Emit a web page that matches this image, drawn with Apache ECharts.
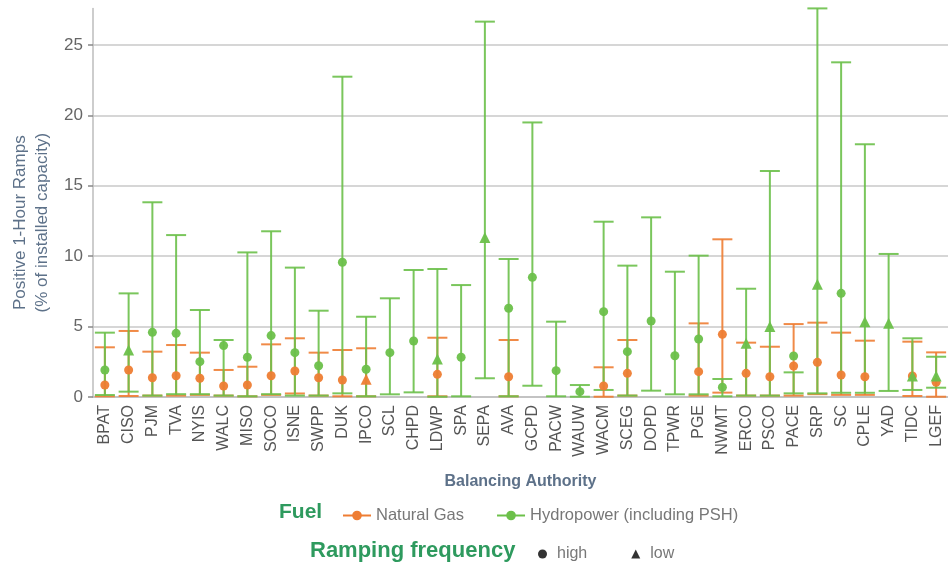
<!DOCTYPE html>
<html>
<head>
<meta charset="utf-8">
<script src="https://cdn.jsdelivr.net/npm/echarts@6/dist/echarts.min.js"></script>
<style>html,body{margin:0;padding:0;background:#fff;}#chart{width:948px;height:565px;}</style>
</head>
<body>
<div id="chart"></div>
<script>
const categories = ['BPAT','CISO','PJM','TVA','NYIS','WALC','MISO','SOCO','ISNE','SWPP','DUK','IPCO','SCL','CHPD','LDWP','SPA','SEPA','AVA','GCPD','PACW','WAUW','WACM','SCEG','DOPD','TPWR','PGE','NWMT','ERCO','PSCO','PACE','SRP','SC','CPLE','YAD','TIDC','LGEF'];

const gasMin  = [0.05,0.07,0.1,0.1,0.15,0.1,0.05,0.15,0.25,0.1,0.05,0.05,null,null,0.05,null,null,0.05,null,null,null,0.02,0.1,null,null,0.1,0.31,0.1,0.1,0.1,0.2,0.15,0.15,null,0.07,0.02];
const gasMax  = [3.53,4.69,3.22,3.69,3.15,1.92,2.15,3.74,4.17,3.15,3.34,3.46,null,null,4.21,null,null,4.05,null,null,null,2.11,4.05,null,null,5.23,11.2,3.86,3.57,5.18,5.28,4.57,4.0,null,3.93,3.17];
const gasMid  = [0.85,1.92,1.37,1.51,1.33,0.78,0.85,1.51,1.85,1.37,1.21,1.26,null,null,1.61,null,null,1.44,null,null,null,0.78,1.68,null,null,1.8,4.45,1.68,1.44,2.2,2.46,1.56,1.44,null,1.5,1.04];
const gasFreq = ['high','high','high','high','high','high','high','high','high','high','high','low',null,null,'high',null,null,'high',null,null,null,'high','high',null,null,'high','high','high','high','high','high','high','high',null,'high','high'];

const hydroMin  = [0.14,0.38,0.1,0.2,0.2,0.1,0.05,0.2,0.1,0.1,0.26,0.05,0.19,0.33,0.02,0.05,1.33,0.05,0.8,0.05,0.02,0.5,0.1,0.45,0.19,0.19,0.05,0.1,0.1,0.26,0.26,0.3,0.3,0.43,0.5,0.66];
const hydroMax  = [4.57,7.36,13.83,11.5,6.18,4.05,10.27,11.77,9.19,6.13,22.75,5.7,7.01,9.02,9.09,7.95,26.66,9.8,19.5,5.35,0.85,12.45,9.33,12.76,8.9,10.04,1.28,7.69,16.05,1.75,27.6,23.77,17.95,10.16,4.17,2.86];
const hydroMid  = [1.92,3.34,4.59,4.52,2.51,3.65,2.82,4.36,3.15,2.22,9.57,1.97,3.15,3.98,2.7,2.82,11.32,6.3,8.5,1.87,0.38,6.06,3.22,5.4,2.93,4.12,0.69,3.81,5.0,2.91,8.0,7.36,5.35,5.23,1.49,1.49];
const hydroFreq = ['high','low','high','high','high','high','high','high','high','high','high','high','high','high','low','high','low','high','high','high','high','high','high','high','high','high','high','low','low','high','low','high','low','low','low','low'];

const yTicks = [0,5,10,15,20,25];

const GAS = '#ee7d33';
const HYDRO = '#6cc04a';

function rangeData(mins, maxs) {
  const out = [];
  for (let i = 0; i < categories.length; i++) {
    if (mins[i] != null && maxs[i] != null) out.push([i, mins[i], maxs[i]]);
  }
  return out;
}
function markData(mids, freq) {
  const out = [];
  for (let i = 0; i < categories.length; i++) {
    if (mids[i] != null) {
      out.push({
        value: [i, mids[i]],
        symbol: freq[i] === 'low' ? 'triangle' : 'circle',
        symbolSize: freq[i] === 'low' ? 11 : 9
      });
    }
  }
  return out;
}
function errorRender(color) {
  return function (params, api) {
    const i = api.value(0);
    const lo = api.coord([i, api.value(1)]);
    const hi = api.coord([i, api.value(2)]);
    const hw = 10;
    const style = { stroke: color, lineWidth: 2, opacity: 0.9 };
    return {
      type: 'group',
      children: [
        { type: 'line', shape: { x1: lo[0], y1: lo[1], x2: hi[0], y2: hi[1] }, style: style },
        { type: 'line', shape: { x1: hi[0] - hw, y1: hi[1], x2: hi[0] + hw, y2: hi[1] }, style: style },
        { type: 'line', shape: { x1: lo[0] - hw, y1: lo[1], x2: lo[0] + hw, y2: lo[1] }, style: style }
      ]
    };
  };
}

const chart = echarts.init(document.getElementById('chart'), null, { renderer: 'canvas' });
const font = '"Liberation Sans", Arial, sans-serif';

chart.setOption({
  animation: false,
  backgroundColor: '#fff',
  textStyle: { fontFamily: font },
  title: [
    { text: 'Fuel', left: 274, top: 497, textStyle: { color: '#2e9a5e', fontSize: 21, fontWeight: 'bold', fontFamily: font } },
    { text: 'Ramping frequency', left: 305, top: 535, textStyle: { color: '#2e9a5e', fontSize: 22, fontWeight: 'bold', fontFamily: font } }
  ],
  legend: [
    {
      data: ['Natural Gas', 'Hydropower (including PSH)'],
      left: 337, top: 502, itemWidth: 28, itemHeight: 12, itemGap: 32,
      textStyle: { color: '#777', fontSize: 16.5, fontFamily: font }
    },
    {
      data: [{ name: 'high', icon: 'circle' }, { name: 'low', icon: 'triangle' }],
      left: 533, top: 541, itemWidth: 9, itemHeight: 9, itemGap: 44,
      textStyle: { color: '#777', fontSize: 16, fontFamily: font, padding: [0, 0, 0, 5] }
    }
  ],
  grid: { left: 93, top: 8.4, width: 864, height: 388.6 },
  xAxis: {
    type: 'category',
    data: categories,
    name: 'Balancing Authority',
    nameLocation: 'middle',
    nameGap: 77,
    nameTextStyle: { color: '#5d7189', fontSize: 16, fontWeight: 'bold', fontFamily: font },
    axisLine: { lineStyle: { color: '#bdbdbd', width: 1.5 } },
    axisTick: { alignWithLabel: true, length: 4, lineStyle: { color: '#555', width: 1.5 } },
    axisLabel: { rotate: 90, interval: 0, color: '#555', fontSize: 16, margin: 8, fontFamily: font }
  },
  yAxis: {
    type: 'value',
    min: 0, max: 27.6, interval: 5,
    name: 'Positive 1-Hour Ramps\n(% of installed capacity)',
    nameLocation: 'middle',
    nameGap: 33,
    nameRotate: 90,
    nameTextStyle: { color: '#5d7189', fontSize: 17, lineHeight: 22, align: 'center', padding: [0, 40, 0, 0], fontFamily: font },
    axisLine: { show: true, lineStyle: { color: '#bdbdbd', width: 1.5 } },
    axisTick: { show: true, length: 5, lineStyle: { color: '#888', width: 1.5 } },
    axisLabel: { color: '#666', fontSize: 17, margin: 10, showMaxLabel: false, fontFamily: font,
      formatter: function (v) { return yTicks.indexOf(v) >= 0 ? String(v) : ''; } },
    splitLine: { show: true, lineStyle: { color: ['#c8c8c8','#c8c8c8','#c8c8c8','#c8c8c8','#c8c8c8','#c8c8c8','rgba(0,0,0,0)'], width: 1.5 } }
  },
  series: [
    { name: 'gasRange', type: 'custom', renderItem: errorRender(GAS), data: rangeData(gasMin, gasMax), encode: { x: 0, y: [1, 2] }, z: 2 },
    { name: 'hydroRange', type: 'custom', renderItem: errorRender(HYDRO), data: rangeData(hydroMin, hydroMax), encode: { x: 0, y: [1, 2] }, z: 3 },
    { name: 'gasMark', type: 'scatter', data: markData(gasMid, gasFreq), itemStyle: { color: GAS, opacity: 0.95 }, z: 4 },
    { name: 'hydroMark', type: 'scatter', data: markData(hydroMid, hydroFreq), itemStyle: { color: HYDRO, opacity: 0.95 }, z: 5 },
    { name: 'Natural Gas', type: 'line', data: [], color: GAS, symbol: 'circle', symbolSize: 8, lineStyle: { width: 2 } },
    { name: 'Hydropower (including PSH)', type: 'line', data: [], color: HYDRO, symbol: 'circle', symbolSize: 8, lineStyle: { width: 2 } },
    { name: 'high', type: 'scatter', data: [], color: '#000', symbol: 'circle' },
    { name: 'low', type: 'scatter', data: [], color: '#000', symbol: 'triangle' }
  ]
});
</script>
</body>
</html>
